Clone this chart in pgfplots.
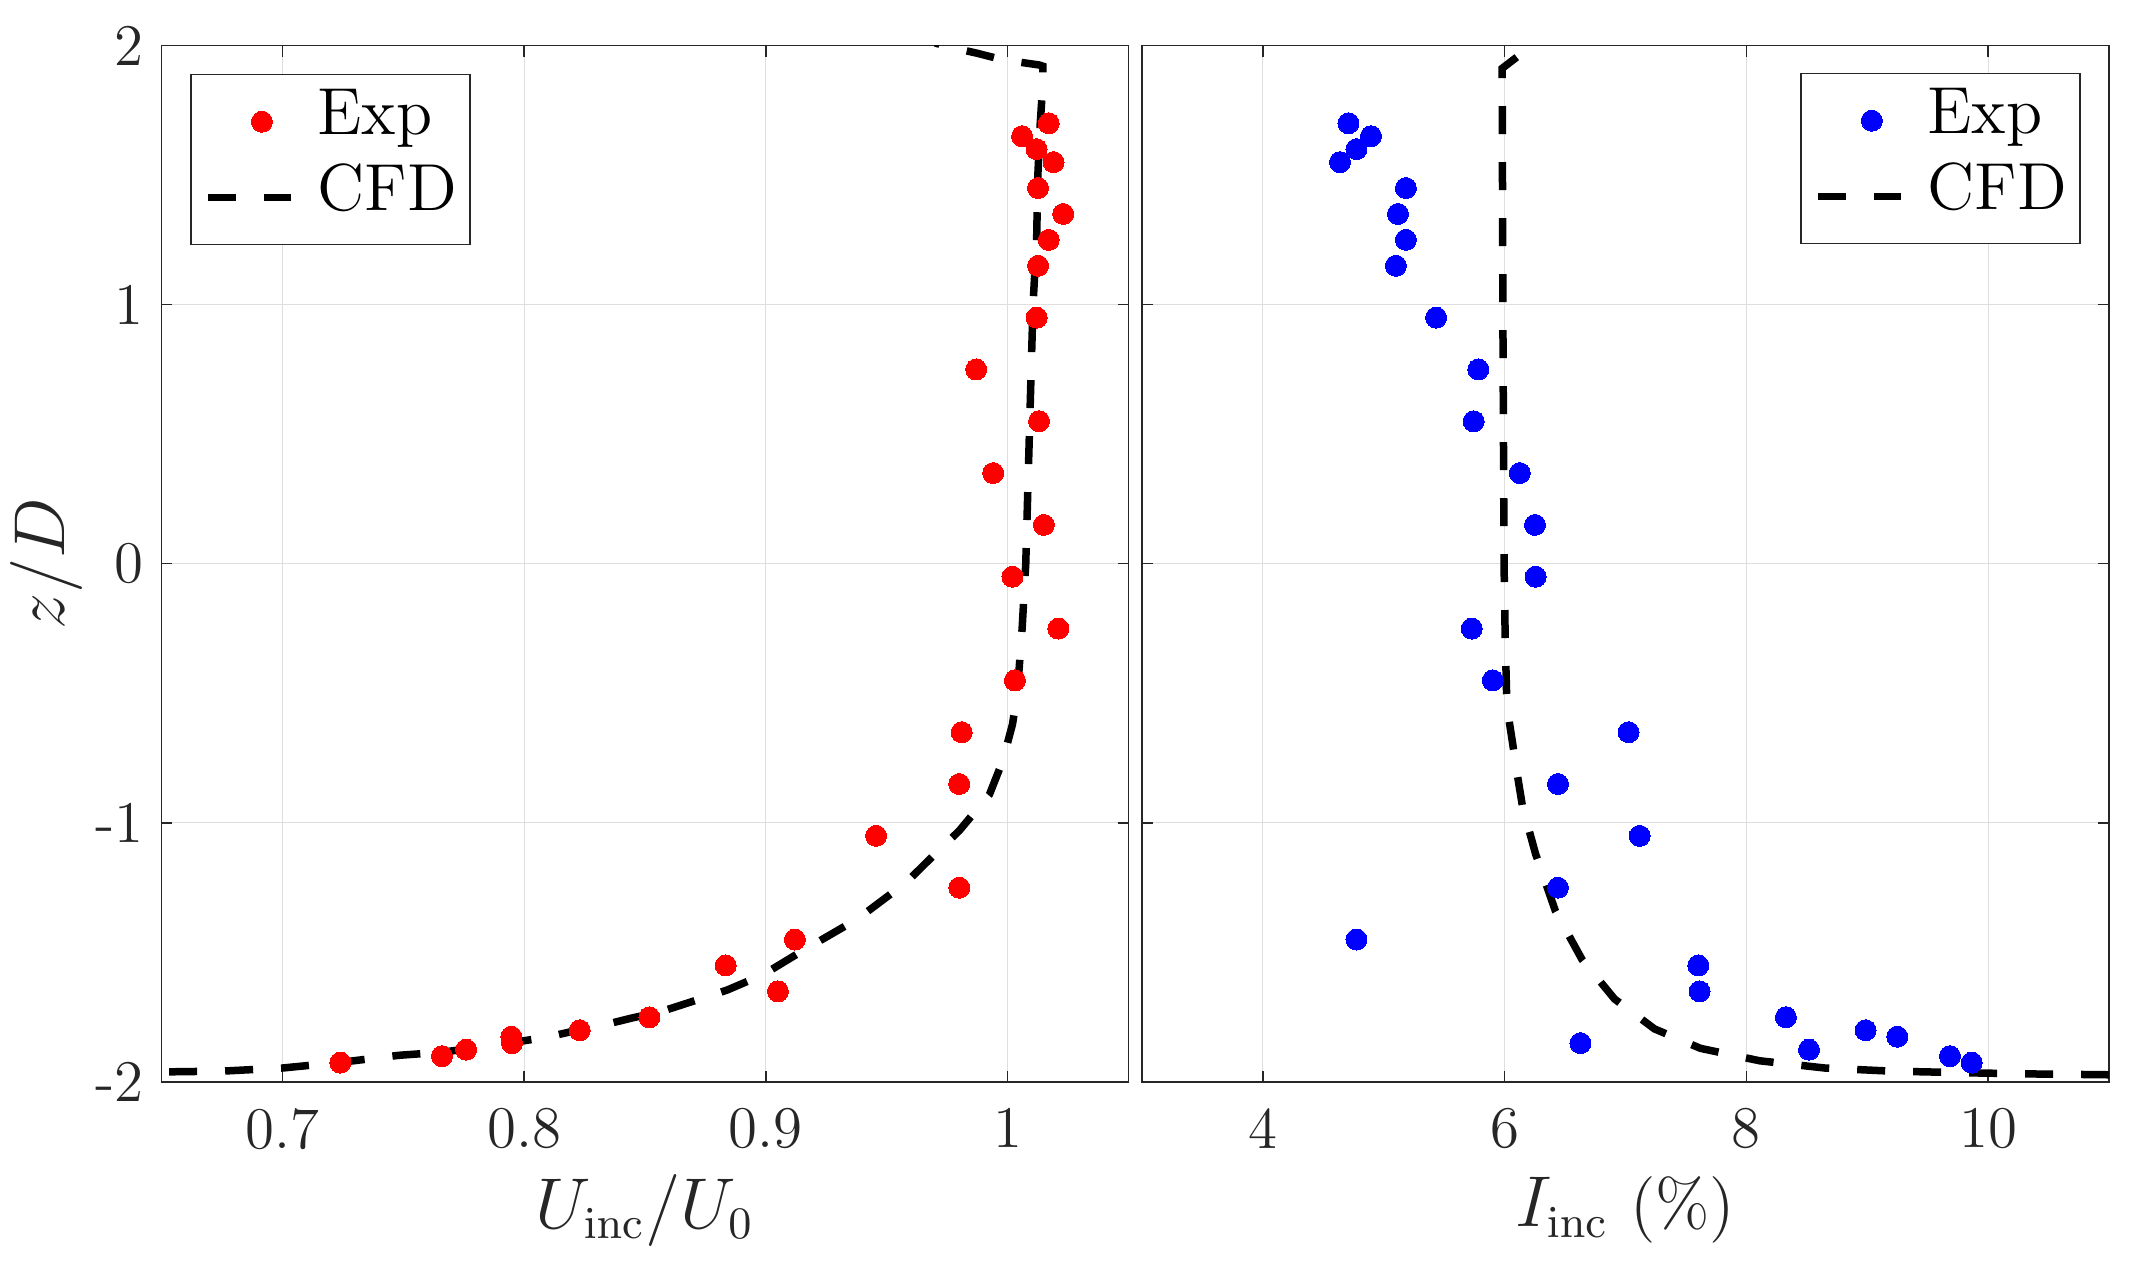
\documentclass[border=0pt]{standalone}
\usepackage{pgfplots}
\pgfplotsset{compat=1.18}
\usepackage{pgfplotstable}
\definecolor{axgray}{rgb}{0.15,0.15,0.15}
\definecolor{gridgray}{rgb}{0.87,0.87,0.87}

\pgfplotstableread{
x y
1.017 1.70
1.006 1.65
1.012 1.60
1.019 1.55
1.0126 1.45
1.023 1.35
1.017 1.25
1.0126 1.15
1.012 0.95
0.987 0.75
1.013 0.55
0.994 0.35
1.015 0.15
1.002 -0.05
1.021 -0.25
1.003 -0.45
0.981 -0.65
0.980 -0.85
0.9456 -1.05
0.980 -1.25
0.912 -1.45
0.8834 -1.55
0.905 -1.65
0.8518 -1.75
0.823 -1.80
0.7947 -1.825
0.795 -1.85
0.776 -1.875
0.766 -1.90
0.724 -1.925
}\expU

\pgfplotstableread{
x y
0.63 -1.962
0.65 -1.961
0.675 -1.958
0.70 -1.946
0.725 -1.923
0.748 -1.897
0.766 -1.885
0.78 -1.868
0.795 -1.848
0.81 -1.826
0.822 -1.80
0.835 -1.775
0.845 -1.752
0.856 -1.73
0.866 -1.70
0.884 -1.645
0.899 -1.585
0.914 -1.50
0.938 -1.37
0.958 -1.23
0.970 -1.12
0.980 -1.03
0.9925 -0.89
0.998 -0.76
1.002 -0.62
1.004 -0.50
1.006 -0.25
1.0075 0.00
1.009 0.50
1.0105 1.00
1.012 1.25
1.0125 1.50
1.0135 1.70
1.0146 1.86
1.0146 1.92
1.013 1.925
0.998 1.945
0.987 1.971
0.975 1.996
0.970 2.01
}\cfdU

\pgfplotstableread{
x y
4.708 1.70
4.894 1.65
4.774 1.60
4.638 1.55
5.183 1.45
5.117 1.35
5.183 1.25
5.10 1.15
5.433 0.95
5.782 0.75
5.744 0.55
6.125 0.35
6.251 0.15
6.256 -0.05
5.728 -0.25
5.902 -0.45
7.025 -0.65
6.441 -0.85
7.117 -1.05
6.441 -1.25
4.774 -1.45
7.602 -1.55
7.613 -1.65
8.327 -1.75
8.986 -1.80
9.248 -1.825
6.627 -1.85
8.518 -1.875
9.684 -1.90
9.864 -1.925
}\expI

\pgfplotstableread{
x y
6.10 1.955
5.98 1.912
5.98 1.80
5.982 1.50
5.985 1.00
5.99 0.50
5.995 0.00
6.005 -0.30
6.016 -0.50
6.035 -0.60
6.065 -0.69
6.10 -0.80
6.147 -0.935
6.256 -1.12
6.42 -1.34
6.64 -1.527
6.91 -1.68
7.24 -1.795
7.62 -1.87
8.11 -1.918
8.65 -1.946
9.2 -1.958
9.9 -1.965
10.4 -1.969
11.0 -1.972
11.2 -1.973
}\cfdI

\pgfplotsset{
  myaxis/.style={
    width=193.4pt, height=207.3pt, scale only axis,
    ymin=-2, ymax=2, ytick={-2,-1,0,1,2},
    axis line style={draw=axgray, line width=0.27pt},
    every tick/.style={draw=axgray, line width=0.27pt},
    major tick length=2.2pt,
    tick align=inside,
    grid=major,
    major grid style={draw=gridgray, line width=0.2pt},
    tick label style={font=\fontsize{11.8}{14}\selectfont, text=axgray},
    xticklabel style={yshift=-1.7pt},
    label style={font=\fontsize{13.3}{15.5}\selectfont, text=axgray},
    xlabel style={at={(axis description cs:0.5,-0.1235)}, anchor=center},
    legend cell align=left,
    legend style={draw=axgray, line width=0.27pt, fill=white,
      inner xsep=2.6pt, inner ysep=4.9pt, row sep=6.2pt, column sep=4.5pt,
      font=\fontsize{13.3}{15}\selectfont, text=black,
      nodes={inner sep=0pt, text height=0.7em, text depth=0.2em}},
  },
  expst/.style={only marks, mark=*, mark size=2.1pt,
    mark options={draw=#1, fill=#1, line width=0pt},
    legend image code/.code={\path (0pt,0pt) (16.7pt,0pt);
      \draw[mark repeat=3, mark phase=2, ##1] plot coordinates {(0pt,0pt) (10.8pt,0pt) (16.7pt,0pt)};}},
  cfdst/.style={black, line width=1.5pt, dash pattern=on 5.6pt off 5.6pt, no marks,
    legend image code/.code={\draw[##1] (0pt,0pt) -- (16.7pt,0pt);}},
}

\begin{document}
\begin{tikzpicture}
\useasboundingbox (-32.3pt,-36.2pt) rectangle (394.7pt,216.4pt);

\begin{axis}[myaxis,
  at={(0pt,0pt)}, anchor=south west,
  xmin=0.65, xmax=1.05,
  xtick={0.7,0.8,0.9,1}, xticklabels={0.7,0.8,0.9,1},
  yticklabels={-2,-1,0,1,2},
  xlabel={$U_{\mathrm{inc}}/U_0$},
  ylabel={$z/D$},
  ylabel style={at={(axis description cs:-0.1189,0.5)}, anchor=center},
  legend style={at={(0,1)}, anchor=north west, xshift=5.8pt, yshift=-5.7pt},
]
\addplot[expst=red] table[x=x,y=y] {\expU};
\addlegendentry{Exp}
\addplot[cfdst] table[x=x,y=y] {\cfdU};
\addlegendentry{CFD}
\end{axis}

\begin{axis}[myaxis,
  at={(196.1pt,0pt)}, anchor=south west,
  xmin=3, xmax=11,
  xtick={4,6,8,10}, xticklabels={4,6,8,10},
  yticklabels={},
  xlabel={$I_{\mathrm{inc}}$ (\%)},
  legend style={at={(1,1)}, anchor=north east, xshift=-5.7pt, yshift=-5.5pt},
]
\addplot[expst=blue] table[x=x,y=y] {\expI};
\addlegendentry{Exp}
\addplot[cfdst] table[x=x,y=y] {\cfdI};
\addlegendentry{CFD}
\end{axis}
\end{tikzpicture}
\end{document}
